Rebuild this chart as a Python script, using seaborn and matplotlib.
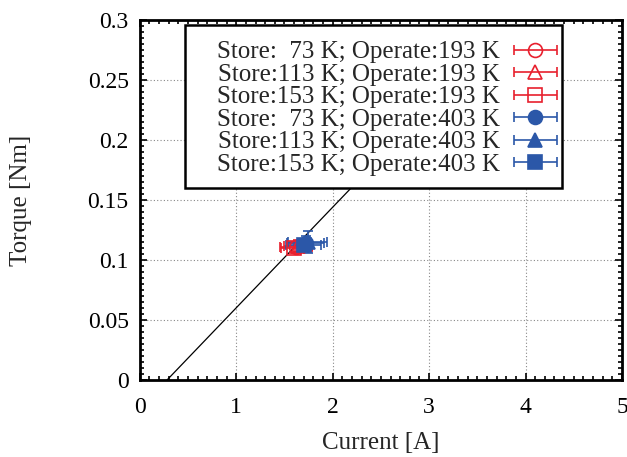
import numpy as np
import pandas as pd
import seaborn as sns
from matplotlib import pyplot as plt
from matplotlib.ticker import MultipleLocator
from matplotlib.legend_handler import HandlerErrorbar
from matplotlib.container import ErrorbarContainer
from matplotlib.patches import Rectangle

# conditions (store / operate temperature)
labels = ["Store:\u200773 K; Operate:193 K",
          "Store:113 K; Operate:193 K",
          "Store:153 K; Operate:193 K",
          "Store:\u200773 K; Operate:403 K",
          "Store:113 K; Operate:403 K",
          "Store:153 K; Operate:403 K"]
current = [1.62, 1.64, 1.60, 1.72, 1.74, 1.70]
current_err = [0.17, 0.15, 0.14, 0.19, 0.20, 0.18]
torque = [0.111, 0.112, 0.110, 0.114, 0.115, 0.113]
torque_err = [0.004, 0.005, 0.004, 0.006, 0.009, 0.005]
markers = ["o", "^", "s", "o", "^", "s"]
filled = [False, False, False, True, True, True]
colors = ["#e8202e"] * 3 + ["#2b57a8"] * 3

# linear fit: torque = slope * (current - offset)
fit_slope = 0.0838
fit_offset = 0.28
fit_x = np.array([fit_offset, 3.0])
fit = pd.DataFrame({"Current": fit_x, "Torque": fit_slope * (fit_x - fit_offset)})

sns.set_style("ticks")
plt.rcParams['font.family'] = ['Liberation Serif', 'DejaVu Serif']

fig, ax = plt.subplots(figsize=(6.27, 4.57), dpi=100)
fig.subplots_adjust(left=0.223, right=0.992, top=0.956, bottom=0.168)

sns.lineplot(data=fit, x="Current", y="Torque", ax=ax, color="black", lw=0.9, zorder=2)

handles = []
for i in range(len(labels)):
    style = dict(fmt=markers[i], color=colors[i], ecolor=colors[i], elinewidth=1.2,
                 capsize=3.5, capthick=1.2, ms=10, mew=1.2,
                 mfc=colors[i] if filled[i] else "none")
    ax.errorbar(current[i], torque[i], xerr=current_err[i], yerr=torque_err[i],
                zorder=3, **style)
    # key entry: horizontal bar only, like the original key
    h = ax.errorbar([np.nan], [np.nan], xerr=[1], label=labels[i], **style)
    handles.append(h)

ax.set_xlim(0, 5)
ax.set_ylim(0, 0.3)
ax.xaxis.set_major_locator(MultipleLocator(1))
ax.xaxis.set_minor_locator(MultipleLocator(0.1))
ax.yaxis.set_minor_locator(MultipleLocator(0.005))
ax.set_yticks(np.arange(0, 0.31, 0.05))
ax.set_yticklabels(["0", "0.05", "0.1", "0.15", "0.2", "0.25", "0.3"])
ax.grid(which="major", ls=(0, (1, 2)), color="#888888", lw=0.8)
ax.tick_params(which="both", direction="in", top=True, right=True, labelsize=17, colors="black")
ax.tick_params(which="major", length=5, width=1.2)
ax.tick_params(axis="x", which="major", pad=12)
ax.tick_params(axis="y", which="major", pad=8)
ax.tick_params(which="minor", length=3, width=1.2)
for s in ax.spines.values():
    s.set_linewidth(2)
    s.set_color("black")

ax.set_xlabel("Current [A]", fontsize=18, labelpad=10)
ax.set_ylabel("Torque [Nm]", fontsize=18, labelpad=40)

# key box (gnuplot style: wide left margin)
key_box = Rectangle((0.093, 0.533), 0.783, 0.453, transform=ax.transAxes,
                    facecolor="white", edgecolor="black", lw=1.8, zorder=4)
ax.add_patch(key_box)

leg = ax.legend(handles=handles, labels=labels, loc="upper right",
                bbox_to_anchor=(0.867, 0.942), markerfirst=False,
                fontsize=18, frameon=False, labelspacing=0.0, handlelength=1.8,
                handletextpad=0.5, borderpad=0, borderaxespad=0,
                handler_map={ErrorbarContainer: HandlerErrorbar(xerr_size=0.85)})
leg.set_zorder(5)

plt.savefig("out.png", dpi=100)
